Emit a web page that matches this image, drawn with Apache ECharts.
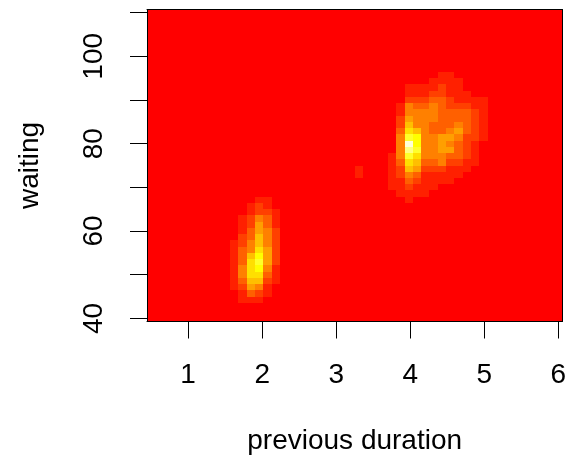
<!DOCTYPE html>
<html>
<head>
<meta charset="utf-8">
<script src="https://cdn.jsdelivr.net/npm/echarts@6/dist/echarts.min.js"></script>
<style>
  html, body { margin: 0; padding: 0; background: #ffffff; }
  #chart { width: 569px; height: 461px; }
</style>
</head>
<body>
<div id="chart"></div>
<script>
// 2-D density estimate on a 50 x 50 grid of previous duration vs waiting time
const gridN = 50;
const durationLims = [0.5, 6];
const waitingLims = [40, 110];

const xTickValues = [1, 2, 3, 4, 5, 6];
const yTickValues = [40, 50, 60, 70, 80, 90, 100, 110];
const yLabelValues = [40, 60, 80, 100];

// heat.colors(12): density classes 0 (lowest) .. 11 (highest), zlim 0–0.075
const heatColors = [
  '#FF0000', '#FF2000', '#FF4000', '#FF6000', '#FF8000', '#FF9F00',
  '#FFBF00', '#FFDF00', '#FFFF00', '#FFFF2A', '#FFFF80', '#FFFFD5'
];

// Long-eruption cluster: density class per cell, first column = duration index 29,
// first row = waiting index 39, rows going downwards
const longCol = 29;
const longTopRow = 39;
const longCluster = [
  [0, 0, 0, 0, 0, 0, 1, 1, 0, 0, 0, 0],
  [0, 0, 0, 0, 0, 1, 1, 1, 1, 0, 0, 0],
  [0, 0, 1, 1, 1, 1, 2, 1, 1, 0, 0, 0],
  [0, 0, 1, 1, 1, 2, 2, 1, 1, 1, 0, 0],
  [0, 0, 2, 2, 2, 3, 3, 2, 1, 1, 1, 1],
  [0, 1, 4, 3, 3, 4, 3, 2, 2, 2, 1, 1],
  [0, 1, 4, 4, 4, 4, 3, 3, 3, 3, 2, 1],
  [0, 2, 5, 4, 4, 4, 3, 3, 3, 3, 2, 1],
  [0, 2, 6, 4, 4, 3, 3, 3, 4, 3, 2, 1],
  [0, 3, 7, 6, 4, 3, 3, 4, 5, 3, 2, 1],
  [0, 4, 9, 8, 4, 4, 5, 5, 4, 2, 2, 1],
  [0, 4, 11, 8, 4, 4, 5, 4, 3, 2, 1, 0],
  [0, 4, 10, 9, 4, 4, 5, 5, 3, 2, 1, 0],
  [1, 4, 9, 7, 4, 4, 4, 3, 3, 2, 1, 0],
  [1, 3, 7, 6, 3, 3, 4, 2, 2, 1, 1, 0],
  [1, 2, 6, 5, 2, 2, 2, 1, 1, 1, 0, 0],
  [1, 2, 4, 3, 1, 1, 1, 1, 1, 0, 0, 0],
  [1, 1, 3, 2, 1, 1, 1, 1, 0, 0, 0, 0],
  [1, 1, 2, 1, 1, 1, 0, 0, 0, 0, 0, 0],
  [0, 1, 1, 1, 1, 0, 0, 0, 0, 0, 0, 0],
  [0, 0, 1, 0, 0, 0, 0, 0, 0, 0, 0, 0]
];

// Short-eruption cluster: first column = duration index 10, first row = waiting index 19
const shortCol = 10;
const shortTopRow = 19;
const shortCluster = [
  [0, 0, 0, 1, 1, 0],
  [0, 0, 1, 2, 1, 0],
  [0, 0, 1, 2, 2, 1],
  [0, 1, 2, 4, 3, 1],
  [0, 1, 2, 5, 3, 1],
  [0, 1, 3, 5, 4, 2],
  [0, 2, 3, 6, 4, 2],
  [1, 2, 4, 6, 4, 2],
  [1, 3, 4, 7, 5, 2],
  [1, 3, 6, 8, 5, 2],
  [1, 3, 7, 9, 5, 2],
  [1, 4, 7, 8, 4, 1],
  [1, 4, 7, 7, 3, 1],
  [1, 3, 6, 6, 2, 1],
  [1, 2, 5, 4, 1, 0],
  [0, 1, 3, 2, 1, 0],
  [0, 1, 1, 1, 0, 0]
];

// Isolated cells: [duration index, waiting index, class]
const isolatedCells = [[25, 23, 1], [25, 24, 1]];

// ---- build the full grid ----
const dx = (durationLims[1] - durationLims[0]) / (gridN - 1);
const dy = (waitingLims[1] - waitingLims[0]) / (gridN - 1);

const levels = [];
for (let i = 0; i < gridN; i++) levels.push(new Array(gridN).fill(0));

function place(block, col, topRow) {
  block.forEach((row, r) => {
    row.forEach((v, c) => { levels[col + c][topRow - r] = v; });
  });
}
place(longCluster, longCol, longTopRow);
place(shortCluster, shortCol, shortTopRow);
isolatedCells.forEach(([i, j, v]) => { levels[i][j] = v; });

const cells = [];
for (let i = 0; i < gridN; i++) {
  for (let j = 0; j < gridN; j++) {
    cells.push([durationLims[0] + i * dx, waitingLims[0] + j * dy, levels[i][j]]);
  }
}

const xMin = durationLims[0] - dx / 2, xMax = durationLims[1] + dx / 2;
const yMin = waitingLims[0] - dy / 2, yMax = waitingLims[1] + dy / 2;

// cell edge k (0..gridN) along each axis, shared by neighbouring cells
const xEdge = k => xMin + k * dx;
const yEdge = k => yMin + k * dy;

const font = 'Liberation Sans, Arial, Helvetica, sans-serif';
const lineBlack = { color: '#000000', width: 1 };

const chart = echarts.init(document.getElementById('chart'), null, { renderer: 'canvas' });

chart.setOption({
  animation: false,
  backgroundColor: '#ffffff',
  grid: { left: 147, top: 9.5, width: 417, height: 312, containLabel: false },
  visualMap: {
    type: 'piecewise',
    show: false,
    dimension: 2,
    seriesIndex: 0,
    pieces: heatColors.map((c, k) => ({ value: k, color: c }))
  },
  xAxis: [
    {
      type: 'value', position: 'bottom', min: xMin, max: xMax, z: 10,
      splitLine: { show: false },
      axisLine: { show: true, onZero: false, lineStyle: lineBlack },
      axisTick: { show: true, inside: false, length: 17, lineStyle: lineBlack, customValues: xTickValues },
      axisLabel: { show: true, margin: 40, fontSize: 28, fontFamily: font, color: '#000', customValues: xTickValues },
      name: 'previous duration', nameLocation: 'middle', nameGap: 106,
      nameTextStyle: { fontSize: 28, fontFamily: font, color: '#000' }
    },
    {
      type: 'value', position: 'top', min: xMin, max: xMax, z: 10,
      splitLine: { show: false },
      axisLine: { show: true, onZero: false, lineStyle: lineBlack },
      axisTick: { show: false }, axisLabel: { show: false }
    }
  ],
  yAxis: [
    {
      type: 'value', position: 'left', min: yMin, max: yMax, z: 10,
      splitLine: { show: false },
      axisLine: { show: true, onZero: false, lineStyle: lineBlack },
      axisTick: { show: true, inside: false, length: 17, lineStyle: lineBlack, customValues: yTickValues },
      axisLabel: { show: true, margin: 39, rotate: 90, fontSize: 28, fontFamily: font, color: '#000', customValues: yLabelValues },
      name: 'waiting', nameLocation: 'middle', nameGap: 103, nameRotate: 90,
      nameTextStyle: { fontSize: 28, fontFamily: font, color: '#000' }
    },
    {
      type: 'value', position: 'right', min: yMin, max: yMax, z: 10,
      splitLine: { show: false },
      axisLine: { show: true, onZero: false, lineStyle: lineBlack },
      axisTick: { show: false }, axisLabel: { show: false }
    }
  ],
  series: [{
    type: 'custom',
    xAxisIndex: 0,
    yAxisIndex: 0,
    clip: true,
    encode: { x: 0, y: 1 },
    data: cells,
    renderItem: function (params, api) {
      const i = Math.round((api.value(0) - durationLims[0]) / dx);
      const j = Math.round((api.value(1) - waitingLims[0]) / dy);
      const pA = api.coord([xEdge(i), yEdge(j + 1)]);
      const pB = api.coord([xEdge(i + 1), yEdge(j)]);
      const x0 = Math.round(pA[0]), y0 = Math.round(pA[1]);
      const x1 = Math.round(pB[0]), y1 = Math.round(pB[1]);
      return {
        type: 'rect',
        shape: { x: x0, y: y0, width: x1 - x0, height: y1 - y0 },
        style: { fill: api.visual('color') }
      };
    }
  }]
});
</script>
</body>
</html>
